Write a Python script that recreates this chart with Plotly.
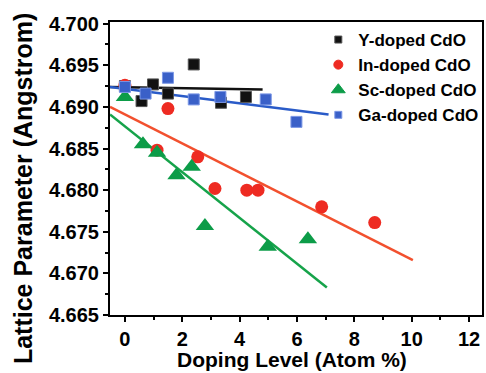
import plotly.graph_objects as go

# Measured lattice parameters (Angstrom) vs doping level (atom %)
y_x = [0.0, 0.58, 0.98, 1.5, 2.4, 3.35, 4.22]
y_a = [4.6925, 4.6907, 4.6927, 4.6916, 4.6951, 4.6905, 4.6912]

in_x = [0.0, 1.5, 1.12, 2.54, 3.14, 4.25, 4.64, 6.86, 8.71]
in_a = [4.6926, 4.6898, 4.6848, 4.6840, 4.6802, 4.6800, 4.6800, 4.6780, 4.6761]

sc_x = [0.0, 0.63, 1.12, 1.8, 2.33, 2.79, 4.98, 6.38]
sc_a = [4.6912, 4.6855, 4.6845, 4.6818, 4.6828, 4.6757, 4.6732, 4.6741]

ga_x = [0.0, 0.72, 1.5, 2.4, 3.33, 4.91, 5.98]
ga_a = [4.6924, 4.6916, 4.6935, 4.6909, 4.6912, 4.6909, 4.6882]

# Linear fit lines (end points)
y_fit_x, y_fit_a = [-0.52, 4.8], [4.6924, 4.6921]
in_fit_x, in_fit_a = [-0.52, 10.04], [4.6900, 4.6716]
sc_fit_x, sc_fit_a = [-0.52, 7.04], [4.6891, 4.6683]
ga_fit_x, ga_fit_a = [-0.52, 7.1], [4.6924, 4.6891]

names = ["Y-doped CdO", "In-doped CdO", "Sc-doped CdO", "Ga-doped CdO"]

BLACK, RED, GREEN, BLUE = "#111111", "#ee2b22", "#0c9c48", "#3a60c8"
LRED, LGREEN, LBLUE = "#f2502e", "#16a34a", "#2a5bc8"
FONT = "Liberation Sans, Arial"

fig = go.Figure()

for fx, fa, col in [(y_fit_x, y_fit_a, BLACK), (in_fit_x, in_fit_a, LRED),
                    (sc_fit_x, sc_fit_a, LGREEN), (ga_fit_x, ga_fit_a, LBLUE)]:
    fig.add_trace(go.Scatter(x=fx, y=fa, mode="lines", showlegend=False,
                             line=dict(color=col, width=2.5), hoverinfo="skip"))

fig.add_trace(go.Scatter(x=y_x, y=y_a, mode="markers", showlegend=False,
                         marker=dict(symbol="square", size=11, color=BLACK,
                                     line=dict(color="#555555", width=1))))
fig.add_trace(go.Scatter(x=in_x, y=in_a, mode="markers", showlegend=False,
                         marker=dict(symbol="circle", size=13, color=RED,
                                     line=dict(width=0))))
fig.add_trace(go.Scatter(x=sc_x, y=sc_a, mode="markers", showlegend=False,
                         marker=dict(symbol="triangle-up", size=16, color=GREEN,
                                     line=dict(width=0))))
fig.add_trace(go.Scatter(x=ga_x, y=ga_a, mode="markers", showlegend=False,
                         marker=dict(symbol="square", size=11, color=BLUE,
                                     line=dict(color="#7b97e6", width=1))))

# Legend entries
for nm, sym, sz, col, lc in [(names[0], "square", 7, BLACK, "#555555"),
                             (names[1], "circle", 9, RED, RED),
                             (names[2], "triangle-up", 12, GREEN, GREEN),
                             (names[3], "square", 7, BLUE, "#7b97e6")]:
    fig.add_trace(go.Scatter(x=[None], y=[None], mode="markers", name=nm,
                             marker=dict(symbol=sym, size=sz, color=col,
                                         line=dict(color=lc, width=1))))

axis_common = dict(showline=True, linecolor="black", linewidth=2, mirror=True,
                   ticks="outside", ticklen=5, tickwidth=2, tickcolor="black",
                   showgrid=False, zeroline=False, automargin=False,
                   tickfont=dict(family=FONT, size=20, color="black",
                                 weight="bold"))

fig.update_xaxes(range=[-0.52, 12.45], tickvals=[0, 2, 4, 6, 8, 10, 12],
                 minor=dict(tickvals=[1, 3, 5, 7, 9, 11], ticks="outside",
                            ticklen=3, tickwidth=2, tickcolor="black"),
                 **axis_common)
fig.update_yaxes(range=[4.665, 4.7002],
                 tickvals=[4.665, 4.670, 4.675, 4.680, 4.685, 4.690, 4.695, 4.700],
                 tickformat=".3f",
                 minor=dict(dtick=0.0025, tick0=4.665, ticks="outside",
                            ticklen=3, tickwidth=2, tickcolor="black"),
                 **axis_common)

# Axis titles
fig.add_annotation(text="Doping Level (Atom %)",
                   xref="paper", yref="paper", x=0.49, y=-0.153,
                   xanchor="center", yanchor="middle", showarrow=False,
                   font=dict(family=FONT, size=21, color="black", weight="bold"))
fig.add_annotation(text="Lattice Parameter (Angstrom)", textangle=-90,
                   xref="paper", yref="paper", x=-0.234, y=0.433,
                   xanchor="center", yanchor="middle", showarrow=False,
                   font=dict(family=FONT, size=25, color="black", weight="bold"))

fig.update_layout(
    width=486, height=373,
    margin=dict(l=110, r=4, t=22, b=58, autoexpand=False),
    plot_bgcolor="white", paper_bgcolor="white",
    legend=dict(x=0.56, y=1.0, xanchor="left", yanchor="top",
                bgcolor="rgba(0,0,0,0)", tracegroupgap=0,
                font=dict(family=FONT, size=17, color="black",
                          weight="bold")),
)

fig.write_html("out.html")
